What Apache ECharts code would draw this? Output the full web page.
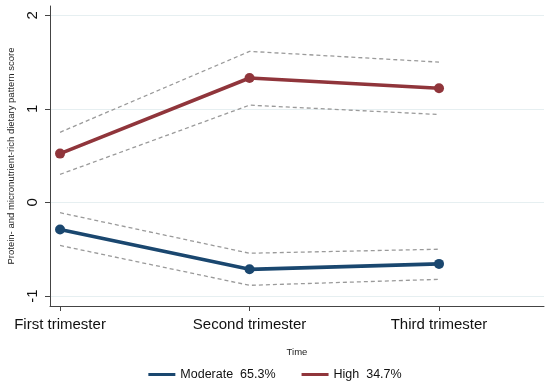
<!DOCTYPE html>
<html><head><meta charset="utf-8">
<script src="https://cdn.jsdelivr.net/npm/echarts@6/dist/echarts.min.js"></script>
<style>html,body{margin:0;padding:0;background:#fff}#c{width:550px;height:389px}</style>
</head><body><div id="c"></div>
<script>
var timePoints = [1, 2, 3];
var timeLabels = ['First trimester', 'Second trimester', 'Third trimester'];
var yTicks = [-1, 0, 1, 2];
var moderate = [-0.29, -0.715, -0.657];
var moderateUpper = [-0.11, -0.543, -0.50];
var moderateLower = [-0.46, -0.886, -0.822];
var high = [0.522, 1.33, 1.22];
var highUpper = [0.75, 1.615, 1.50];
var highLower = [0.30, 1.04, 0.94];
var seriesNames = ['Moderate  65.3%', 'High  34.7%'];

function pairs(v){ return timePoints.map(function(t,i){ return [t, v[i]]; }); }
var navy = '#1a476f', maroon = '#90353b', ci = '#9a9a9a';
function ciSeries(v){
  return {type:'line', data:pairs(v), symbol:'none', silent:true, z:1,
    lineStyle:{color:ci, width:1.3, type:[4,3]}};
}
function mainSeries(name, v, col){
  return {name:name, type:'line', data:pairs(v), symbol:'circle', symbolSize:10, z:3,
    itemStyle:{color:col}, lineStyle:{color:col, width:3.6}};
}
var chart = echarts.init(document.getElementById('c'), null, {renderer:'canvas'});
chart.setOption({
  animation:false,
  textStyle:{fontFamily:'Liberation Sans, Arial, sans-serif'},
  grid:{left:50, right:6, top:6, bottom:83, containLabel:false, outerBoundsMode:'none'},
  legend:{data:seriesNames, bottom:3, left:'center', itemWidth:27, itemHeight:3, itemGap:26,
    icon:'rect', textStyle:{fontSize:12.5, color:'#111'}},
  xAxis:{type:'value', min:0.947, max:3.554,
    name:'Time', nameLocation:'middle', nameGap:41, nameTextStyle:{fontSize:9.5, color:'#222'},
    axisLine:{show:true, onZero:false, lineStyle:{color:'#444', width:1}},
    axisTick:{show:true, length:5, customValues:timePoints, lineStyle:{color:'#444'}},
    axisLabel:{customValues:timePoints, fontSize:15, color:'#111', margin:11,
      formatter:function(v){ var i=timePoints.indexOf(v); return i>=0?timeLabels[i]:''; }},
    splitLine:{show:false}},
  yAxis:{type:'value', min:-1.107, max:2.1,
    name:'Protein- and micronutrient-rich dietary pattern score', nameLocation:'middle', nameGap:34,
    nameTextStyle:{fontSize:9.5, color:'#222'},
    axisLine:{show:true, onZero:false, lineStyle:{color:'#444', width:1}},
    axisTick:{show:true, length:5, customValues:yTicks, lineStyle:{color:'#444'}},
    axisLabel:{customValues:yTicks, rotate:90, fontSize:15, color:'#111', margin:10},
    splitLine:{show:true, lineStyle:{color:'#e6eff1', width:1}}},
  series:[
    ciSeries(moderateUpper), ciSeries(moderateLower),
    ciSeries(highUpper), ciSeries(highLower),
    mainSeries(seriesNames[0], moderate, navy),
    mainSeries(seriesNames[1], high, maroon)
  ]
});
</script></body></html>
